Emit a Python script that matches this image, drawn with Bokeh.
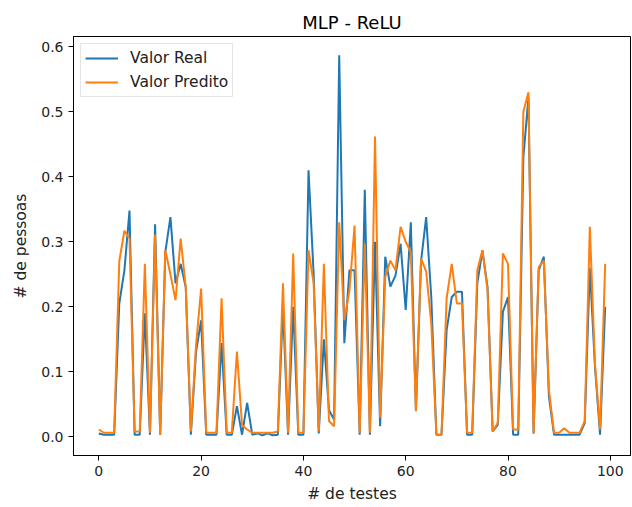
from bokeh.plotting import figure
from bokeh.models import Range1d, FixedTicker, PrintfTickFormatter, Legend, LegendItem
from bokeh.embed import file_html
from bokeh.resources import INLINE

x_idx = list(range(100))
valor_real = [
    0.005, 0.003, 0.003, 0.003, 0.205, 0.256, 0.348, 0.003, 0.003, 0.19,
    0.003, 0.327, 0.003, 0.284, 0.338, 0.236, 0.266, 0.23, 0.003, 0.13,
    0.179, 0.003, 0.003, 0.003, 0.144, 0.003, 0.003, 0.047, 0.003, 0.052,
    0.003, 0.005, 0.002, 0.005, 0.002, 0.003, 0.2, 0.003, 0.2, 0.003,
    0.003, 0.41, 0.25, 0.005, 0.15, 0.041, 0.026, 0.587, 0.144, 0.256,
    0.256, 0.003, 0.38, 0.003, 0.30, 0.016, 0.277, 0.231, 0.248, 0.297,
    0.195, 0.33, 0.04, 0.27, 0.338, 0.215, 0.003, 0.003, 0.164, 0.215,
    0.223, 0.223, 0.003, 0.003, 0.236, 0.287, 0.23, 0.008, 0.018, 0.192,
    0.215, 0.003, 0.003, 0.43, 0.522, 0.005, 0.256, 0.277, 0.062, 0.003,
    0.003, 0.003, 0.003, 0.003, 0.003, 0.021, 0.26, 0.108, 0.003, 0.2,
]
valor_predito = [
    0.011, 0.006, 0.006, 0.006, 0.27, 0.317, 0.305, 0.008, 0.008, 0.266,
    0.006, 0.311, 0.003, 0.287, 0.25, 0.21, 0.305, 0.23, 0.008, 0.14,
    0.228, 0.006, 0.006, 0.006, 0.213, 0.006, 0.006, 0.131, 0.018, 0.011,
    0.006, 0.006, 0.006, 0.006, 0.006, 0.008, 0.236, 0.006, 0.282, 0.006,
    0.006, 0.287, 0.236, 0.008, 0.266, 0.024, 0.016, 0.33, 0.179, 0.225,
    0.325, 0.006, 0.297, 0.006, 0.462, 0.029, 0.246, 0.271, 0.256, 0.323,
    0.3, 0.284, 0.039, 0.274, 0.254, 0.174, 0.003, 0.003, 0.213, 0.266,
    0.205, 0.205, 0.006, 0.006, 0.256, 0.287, 0.225, 0.008, 0.021, 0.282,
    0.266, 0.011, 0.011, 0.5, 0.53, 0.005, 0.261, 0.271, 0.072, 0.006,
    0.006, 0.013, 0.006, 0.006, 0.006, 0.024, 0.323, 0.113, 0.011, 0.266,
]
x_ticks = [0, 20, 40, 60, 80, 100]
y_ticks = [0.0, 0.1, 0.2, 0.3, 0.4, 0.5, 0.6]

FONT = "DejaVu Sans"

p = figure(width=632, height=507, output_backend="svg", toolbar_location=None,
           x_range=Range1d(-4.95, 103.95), y_range=Range1d(-0.029, 0.616),
           min_border_left=73, min_border_right=2, min_border_top=36, min_border_bottom=52)

p.title.text = "MLP - ReLU"
p.title.align = "center"
p.title.text_font = FONT
p.title.text_font_size = "18px"
p.title.text_font_style = "normal"
p.title.text_color = "black"
p.title.standoff = 8

r1 = p.line(x_idx, valor_real, line_color="#1f77b4", line_width=2)
r2 = p.line(x_idx, valor_predito, line_color="#ff7f0e", line_width=2)

p.xgrid.visible = False
p.ygrid.visible = False
p.outline_line_color = "black"
p.outline_line_width = 1
p.outline_line_alpha = 1
p.background_fill_color = "white"
p.border_fill_color = "white"

p.xaxis.ticker = FixedTicker(ticks=x_ticks)
p.yaxis.ticker = FixedTicker(ticks=y_ticks)
p.yaxis.formatter = PrintfTickFormatter(format="%.1f")
for ax in (p.xaxis[0], p.yaxis[0]):
    ax.axis_line_color = "black"
    ax.major_tick_line_color = "black"
    ax.major_tick_out = 5
    ax.major_tick_in = 0
    ax.minor_tick_line_color = None
    ax.major_label_text_font = FONT
    ax.major_label_text_font_size = "14px"
    ax.major_label_text_color = "#222222"
    ax.axis_label_text_font = FONT
    ax.axis_label_text_font_size = "15.5px"
    ax.axis_label_text_font_style = "normal"
    ax.axis_label_text_color = "#222222"
p.xaxis.axis_label = "# de testes"
p.yaxis.axis_label = "# de pessoas"
p.xaxis.axis_label_standoff = 6
p.yaxis.axis_label_standoff = 8

legend = Legend(items=[LegendItem(label="Valor Real", renderers=[r1]),
                       LegendItem(label="Valor Predito", renderers=[r2])],
                location="top_left")
legend.label_text_font = FONT
legend.label_text_font_size = "15.5px"
legend.label_text_color = "#222222"
legend.border_line_color = "#cccccc"
legend.border_line_width = 1
legend.margin = 7
legend.padding = 4
legend.spacing = 4
legend.glyph_width = 33
legend.glyph_height = 20
legend.label_height = 20
legend.label_standoff = 12
p.add_layout(legend)

open("out.html", "w").write(file_html(p, INLINE))
